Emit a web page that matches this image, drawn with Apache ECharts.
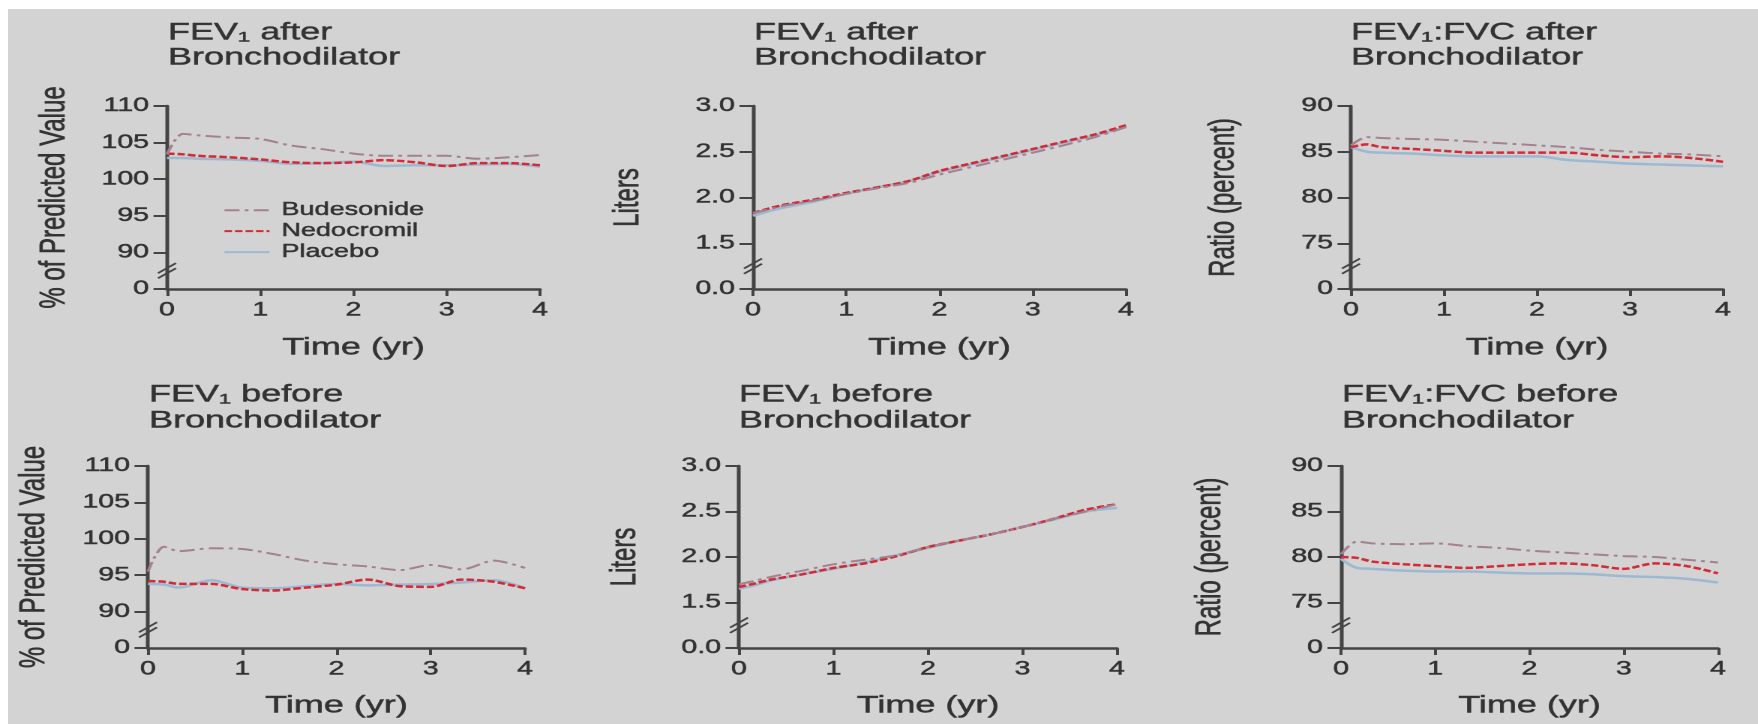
<!DOCTYPE html>
<html>
<head>
<meta charset="utf-8">
<script src="https://cdn.jsdelivr.net/npm/echarts@6/dist/echarts.min.js"></script>
<style>
html,body{margin:0;padding:0;background:#fff;overflow:hidden;width:1758px;height:724px;}
#bg{position:absolute;left:8px;top:9px;right:0;bottom:0;background:#d3d3d3;}
#main{position:absolute;left:0;top:0;width:1172px;height:724px;transform:scaleX(1.5);transform-origin:0 0;}
</style>
</head>
<body>
<div id="bg"></div>
<div id="main"></div>
<script>
// ---- data ----
const seriesNames = ['Budesonide', 'Nedocromil', 'Placebo'];
const timeYr = [0, 0.17, 0.33, 0.67, 1, 1.33, 1.67, 2, 2.33, 2.67, 3, 3.33, 3.67, 4];
const xTicks = [0, 1, 2, 3, 4];

// FEV1 after bronchodilator, % of predicted
const budPctAfter = [103.4, 106.2, 106.0, 105.7, 105.5, 104.6, 104.1, 103.5, 103.2, 103.2, 103.2, 102.8, 103.0, 103.3];
const nedPctAfter = [103.5, 103.4, 103.2, 103.0, 102.7, 102.3, 102.2, 102.3, 102.6, 102.3, 101.8, 102.2, 102.2, 101.9];
const plaPctAfter = [102.9, 102.9, 102.8, 102.7, 102.5, 102.1, 102.2, 102.4, 101.8, 101.9, 101.9, 102.0, 102.1, 101.7];
// FEV1 after bronchodilator, liters
const budLitAfter = [1.83, 1.87, 1.91, 1.97, 2.04, 2.10, 2.16, 2.25, 2.33, 2.41, 2.49, 2.57, 2.66, 2.77];
const nedLitAfter = [1.83, 1.88, 1.92, 1.98, 2.05, 2.11, 2.18, 2.29, 2.37, 2.45, 2.53, 2.61, 2.69, 2.79];
const plaLitAfter = [1.80, 1.85, 1.89, 1.96, 2.04, 2.11, 2.18, 2.28, 2.36, 2.44, 2.52, 2.60, 2.68, 2.77];
// FEV1:FVC after bronchodilator, percent
const budRatAfter = [85.7, 86.6, 86.5, 86.4, 86.3, 86.1, 85.9, 85.7, 85.5, 85.2, 85.0, 84.8, 84.7, 84.5];
const nedRatAfter = [85.5, 85.8, 85.5, 85.3, 85.1, 84.9, 84.9, 84.9, 84.9, 84.6, 84.4, 84.5, 84.3, 83.9];
const plaRatAfter = [85.5, 85.0, 84.9, 84.8, 84.6, 84.5, 84.5, 84.5, 84.1, 83.9, 83.7, 83.6, 83.5, 83.4];
// FEV1 before bronchodilator, % of predicted
const budPctBefore = [95.5, 98.9, 98.3, 98.7, 98.6, 97.9, 97.0, 96.5, 96.2, 95.7, 96.4, 95.8, 97.0, 96.0];
const nedPctBefore = [94.2, 94.1, 93.8, 93.8, 93.1, 92.9, 93.3, 93.7, 94.4, 93.5, 93.4, 94.4, 94.1, 93.2];
const plaPctBefore = [93.8, 93.7, 93.3, 94.3, 93.3, 93.2, 93.5, 93.8, 93.6, 93.7, 93.8, 94.0, 94.3, 93.2];
// FEV1 before bronchodilator, liters
const budLitBefore = [1.70, 1.74, 1.78, 1.85, 1.92, 1.97, 2.02, 2.11, 2.18, 2.25, 2.33, 2.42, 2.50, 2.58];
const nedLitBefore = [1.67, 1.71, 1.75, 1.81, 1.88, 1.93, 2.01, 2.11, 2.18, 2.25, 2.33, 2.42, 2.52, 2.58];
const plaLitBefore = [1.65, 1.69, 1.74, 1.81, 1.87, 1.94, 2.02, 2.10, 2.18, 2.25, 2.33, 2.41, 2.50, 2.54];
// FEV1:FVC before bronchodilator, percent
const budRatBefore = [80.3, 81.7, 81.5, 81.4, 81.5, 81.2, 81.0, 80.7, 80.5, 80.3, 80.1, 80.0, 79.7, 79.4];
const nedRatBefore = [80.0, 79.9, 79.5, 79.2, 79.0, 78.8, 79.0, 79.2, 79.3, 79.1, 78.7, 79.3, 79.0, 78.2];
const plaRatBefore = [79.8, 78.8, 78.7, 78.5, 78.4, 78.4, 78.3, 78.2, 78.2, 78.1, 77.9, 77.8, 77.6, 77.2];

// y tick labels (the bottom tick is drawn as the broken-axis zero)
const pctTicks = ['0', '90', '95', '100', '105', '110'];
const litTicks = ['0.0', '1.5', '2.0', '2.5', '3.0'];
const ratTicks = ['0', '75', '80', '85', '90'];

const panelTitles = [
  ['FEV\u2081 after', 'Bronchodilator'],
  ['FEV\u2081 after', 'Bronchodilator'],
  ['FEV\u2081:FVC after', 'Bronchodilator'],
  ['FEV\u2081 before', 'Bronchodilator'],
  ['FEV\u2081 before', 'Bronchodilator'],
  ['FEV\u2081:FVC before', 'Bronchodilator']
];
const yNames = ['% of Predicted Value', 'Liters', 'Ratio (percent)', '% of Predicted Value', 'Liters', 'Ratio (percent)'];
const panelData = [
  [budPctAfter, nedPctAfter, plaPctAfter],
  [budLitAfter, nedLitAfter, plaLitAfter],
  [budRatAfter, nedRatAfter, plaRatAfter],
  [budPctBefore, nedPctBefore, plaPctBefore],
  [budLitBefore, nedLitBefore, plaLitBefore],
  [budRatBefore, nedRatBefore, plaRatBefore]
];
const panelTicks = [pctTicks, litTicks, ratTicks, pctTicks, litTicks, ratTicks];

// ---- layout / style ----
const SX = 1.5; // horizontal stretch of the page
const ex = v => v / SX;
const FONT = "'Liberation Sans', Arial, Helvetica, sans-serif";
const axisScale = [
  {min: 85, max: 110, interval: 5},
  {min: 1.0, max: 3.0, interval: 0.5},
  {min: 70, max: 90, interval: 5}
];
const layout = [
  {x0: 167, x1: 540, y0: 106, y1: 289, tx: 168, ty: [33, 58], ng: 63},
  {x0: 753, x1: 1126, y0: 106, y1: 289, tx: 754, ty: [33, 58], ng: 71},
  {x0: 1351, x1: 1723, y0: 106, y1: 289, tx: 1351, ty: [33, 58], ng: 73},
  {x0: 148, x1: 525, y0: 466, y1: 648, tx: 149, ty: [395, 421], ng: 64},
  {x0: 739, x1: 1117, y0: 466, y1: 648, tx: 739, ty: [395, 421], ng: 64},
  {x0: 1341, x1: 1718, y0: 466, y1: 648, tx: 1342, ty: [395, 421], ng: 75}
];
const lineStyles = [
  {color: '#a5808f', width: 2, type: [10, 3.5, 2.5, 3.5]},
  {color: '#d42a35', width: 2.5, type: [5, 2]},
  {color: '#9cb9d1', width: 2.5, type: 'solid'}
];
const AX = '#444';
const TXT = '#333';
const heavy = {textBorderColor: '#333', textBorderWidth: 0.45};

const chart = echarts.init(document.getElementById('main'), null, {devicePixelRatio: 2});

const grids = [], xAxes = [], yAxes = [], series = [];
layout.forEach((L, i) => {
  const sc = axisScale[i % 3];
  const ticks = panelTicks[i];
  grids.push({left: ex(L.x0), top: L.y0, width: ex(L.x1 - L.x0), height: L.y1 - L.y0, containLabel: false});
  xAxes.push({
    type: 'value', gridIndex: i, min: 0, max: 4, interval: 1,
    name: 'Time (yr)', nameLocation: 'middle', nameGap: i < 3 ? 47 : 46,
    nameTextStyle: Object.assign({fontSize: 24, color: TXT, fontFamily: FONT}, heavy),
    axisLine: {show: true, onZero: false, lineStyle: {color: AX, width: 2.5}},
    axisTick: {show: true, length: 7, lineStyle: {color: AX, width: 2}},
    axisLabel: Object.assign({fontSize: 19, color: TXT, fontFamily: FONT, margin: 12,
      formatter: v => String(xTicks[Math.round(v)])}, heavy),
    splitLine: {show: false}
  });
  yAxes.push({
    type: 'value', gridIndex: i, min: sc.min, max: sc.max, interval: sc.interval,
    name: yNames[i], nameLocation: 'middle', nameGap: L.ng, nameRotate: 90,
    nameTextStyle: Object.assign({fontSize: 24, color: TXT, fontFamily: FONT}, heavy),
    axisLine: {show: true, onZero: false, lineStyle: {color: AX, width: 2.5}},
    axisTick: {show: true, length: 9, lineStyle: {color: AX, width: 2}},
    axisLabel: Object.assign({fontSize: 19, color: TXT, fontFamily: FONT, margin: 12,
      formatter: v => ticks[Math.round((v - sc.min) / sc.interval)]}, heavy),
    splitLine: {show: false}
  });
  panelData[i].forEach((vals, k) => {
    series.push({
      name: seriesNames[k], type: 'line', xAxisIndex: i, yAxisIndex: i,
      data: timeYr.map((t, j) => [t, vals[j]]),
      showSymbol: false, symbol: 'none', smooth: 0.3,
      lineStyle: lineStyles[k], itemStyle: {color: lineStyles[k].color},
      z: 3 - k, animation: false
    });
  });
});

chart.setOption({
  animation: false,
  textStyle: {fontFamily: FONT},
  grid: grids, xAxis: xAxes, yAxis: yAxes, series: series,
  legend: {
    data: seriesNames, orient: 'vertical', left: ex(223), top: 201,
    padding: 0, itemWidth: 30, itemHeight: 12, itemGap: 2.5,
    itemStyle: {opacity: 0},
    textStyle: Object.assign({fontSize: 18, color: TXT, fontFamily: FONT, padding: [0, 0, 0, 3]}, heavy),
    selectedMode: false
  }
});

// titles and axis-break marks
const graphics = [];
layout.forEach((L, i) => {
  panelTitles[i].forEach((t, r) => {
    graphics.push({type: 'text', x: ex(L.tx), y: L.ty[r], z: 10,
      style: {text: t, fontSize: 24, fontFamily: FONT, fill: TXT, align: 'left', verticalAlign: 'middle',
        stroke: '#333', lineWidth: 0.45}});
  });
  const sc = axisScale[i % 3];
  const p = chart.convertToPixel({gridIndex: i}, [0, sc.min + sc.interval / 2]);
  [-2.6, 2.6].forEach(off => {
    graphics.push({type: 'line', z: 10,
      shape: {x1: p[0] - 6, y1: p[1] + off + 5, x2: p[0] + 6, y2: p[1] + off - 5},
      style: {stroke: AX, lineWidth: 1.6}});
  });
});
chart.setOption({graphic: graphics});
</script>
</body>
</html>
